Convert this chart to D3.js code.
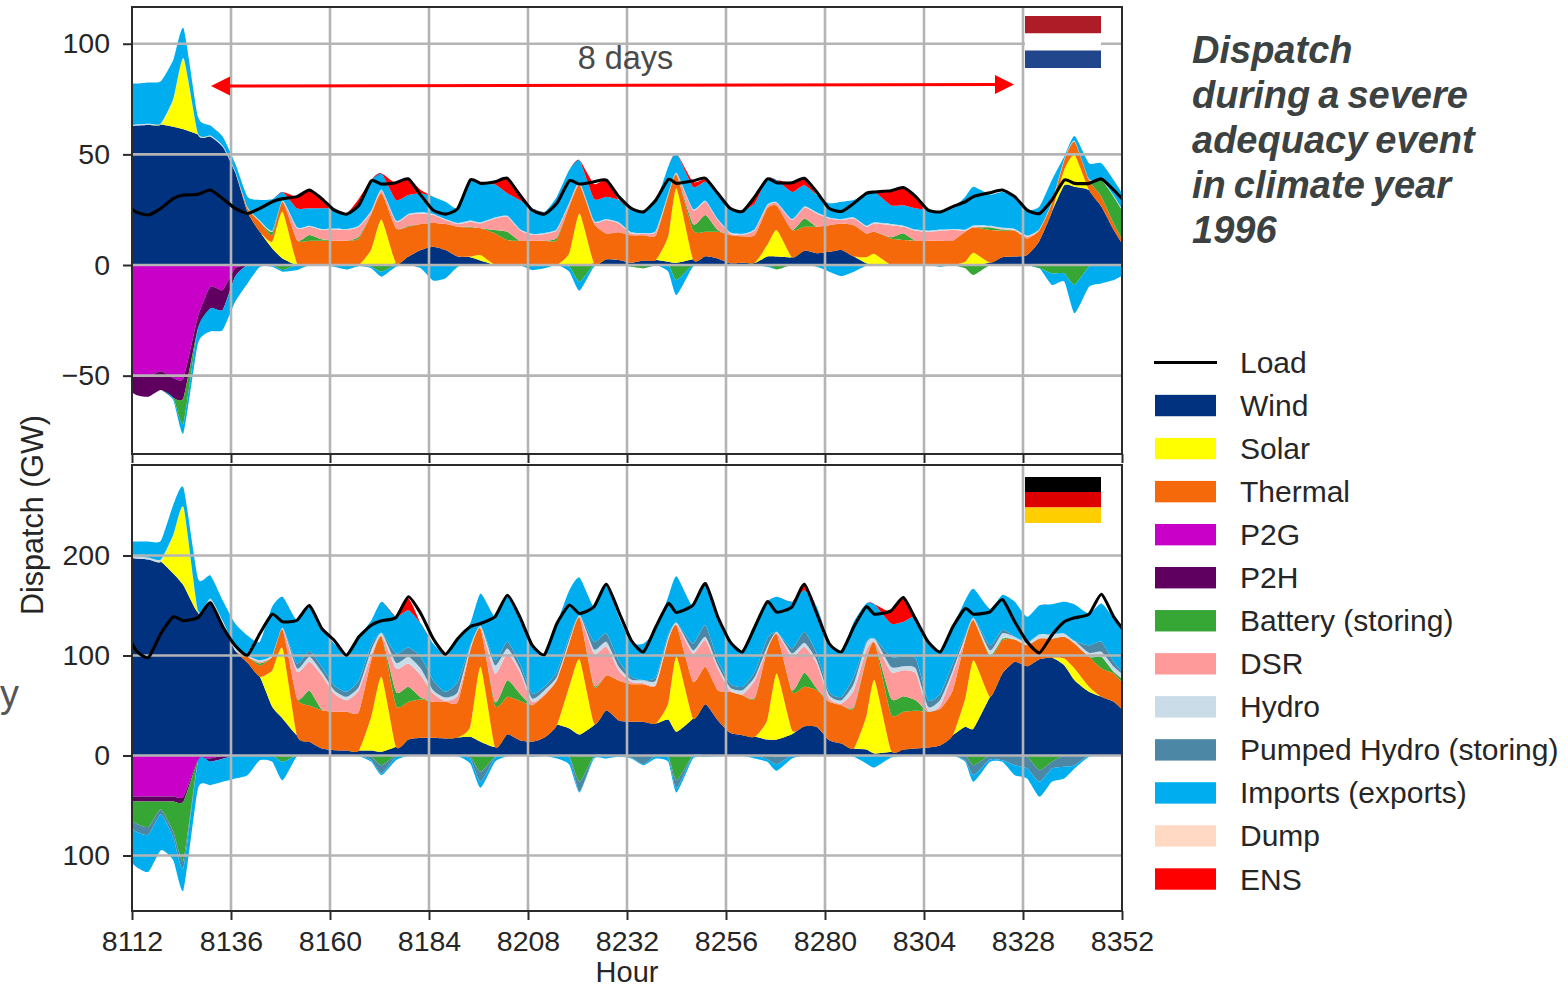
<!DOCTYPE html>
<html><head><meta charset="utf-8">
<script src="https://cdn.jsdelivr.net/npm/d3@7/dist/d3.min.js"></script>
<style>html,body{margin:0;padding:0;background:#fff}svg{display:block}text{font-family:"Liberation Sans",Arial,sans-serif}</style>
</head><body><svg id="c" width="1568" height="988"></svg>
<script>
const hours=[8110,8113,8116,8119,8122,8124.5,8128,8131,8134,8137,
8140,8143,8146,8148.5,8152,8155,8158,8161,8164,8167,
8170,8172.5,8176,8179,8182,8185,8188,8191,8194,8196.5,
8200,8203,8206,8209,8212,8215,8218,8220.5,8224,8227,
8230,8233,8236,8239,8242,8244,8248,8251,8254,8257,
8260,8263,8266,8268.3,8272,8275,8278,8281,8284,8287,
8290,8292,8296,8299,8302,8305,8308,8311,8314,8316,
8320,8323,8326,8329,8332,8335,8338,8340.5,8344,8347,
8350,8353];
const xTicks=[8112,8136,8160,8184,8208,8232,8256,8280,8304,8328,8352];
const nlTicks=[-50,0,50,100];
const deTicks=[-100,0,100,200];
const legendNames=["Load","Wind","Solar","Thermal","P2G","P2H","Battery (storing)","DSR","Hydro","Pumped Hydro (storing)","Imports (exports)","Dump","ENS"];
const colorByName={Wind:"#00327f",Solar:"#ffff00",Thermal:"#f6690a",P2G:"#c800c8",P2H:"#5f0060",Battery:"#36a635",DSR:"#ff9a9a",Hydro:"#c9dce8",PHS:"#4c87a6",Imports:"#00aeef",Dump:"#ffd9c4",ENS:"#ff0000"};
const titleLines=["Dispatch","during a severe","adequacy event","in climate year","1996"];

// Netherlands (GW)
const nlWind=[62,63,63.3,63.5,62.5,61.3,59,58,53.5,42,
24,15,7.5,3,0,0,0,0,0,0,
0,0,0.8,3.8,6.8,8.3,6.8,3.8,3.5,2,
0,0,0,0,0,0,0,0,0.8,2.6,
2.3,1,2,2.3,1.5,1,2.6,4,3,0.8,
1,1,3.8,3.8,3.5,6.5,5.3,6,6.8,3.8,
0.8,0,0,0,0,0,0,0,0,0,
1,3.5,3.8,4.5,11,24,36,35.4,33.9,26.4,
15.8,6.8];
const nlSolar=[0,0,0,0,12,31.7,0,0,0,0,
0,0,3,21,0.8,0,0,0,0,0,
7,20.5,0,0,0,0,0,0,0.3,2.5,
0,0,0,0,0,0,5.3,23.3,0,0,
0,0,0,0,11.5,33.6,0,0,0,0,
0,0,5.2,12,0,0,0,0,0,0,
2.7,5,0,0,0,0,0,0,1.5,5.6,
0,0,0,0,0,0,7,14.3,0,0,
0,0];
const nlThermal=[0,0,0,0,0,0,0,0,0,0,
1.6,4.6,3,4.6,10.5,11,11,11,11,12,
16,11.9,15.8,13.5,11.7,10.7,11.7,13.5,13.1,12.1,
14.3,11.3,11,11,11,11.3,21.1,12.8,18,11.7,
12.5,12.4,11.4,11.1,18,6.1,13.2,11,12,12.8,
12,12.6,16.6,11,12.3,10.8,12,12,12,14.2,
10.8,10,12,11.3,11,11,11,11,13.5,11.3,
14.8,12,11.7,7.5,4.8,3.9,4.4,6,4.5,4.5,
3,1.5];
const nlBattery=[0,0,0,0,0,0,0,0,0,0,
0,0,1.5,0,0,2.6,0.6,0,0,0.8,
0,0,0,0.3,0,0,0,0,0.4,0,
1.5,3.7,0,0,0,1,0,0,0,0,
0,0,0,0,0.6,0,2.7,7.6,0.8,0,
0,0,0,0,0,3.7,0,0,0,0,
0,0,0.5,3,0,0,0,0,0,0,
1.2,0.5,0,0,0,0,0,0,0,7.5,
12.1,13.5];
const nlDSR=[0,0,0,0,0,0,0,0,0,0,
0,0,0,0,5.3,3.7,4.2,5,4.8,4.5,
1,1.2,3,5,4.8,3.6,1.8,1.2,2.3,2.2,
5.2,6.8,4.8,2.6,3,3.5,1.2,0.8,0.8,6,
4,0.9,0.6,1.6,0.2,0.5,6.3,6,4.5,0.7,
0.6,2.2,1.1,1.1,4.5,5,6,3,1.5,3,
3,3.8,5.5,3,4.5,4,4.5,4.8,0.5,0.5,
0.2,0.3,0.3,0.8,0,0,0,0,0,0,
0,0];
const nlHydro=[0.5,0.5,0.5,0.5,0.5,0.5,0.5,0.5,0.5,0.5,
0.5,0.5,0.5,0.5,0.5,0.5,0.5,0.5,0.5,0.5,
0.5,0.5,0.5,0.5,0.5,0.5,0.5,0.5,0.5,0.5,
0.5,0.5,0.5,0.5,0.5,0.5,0.5,0.5,0.5,0.5,
0.5,0.5,0.5,0.5,0.5,0.5,0.5,0.5,0.5,0.5,
0.5,0.5,0.5,0.5,0.5,0.5,0.5,0.5,0.5,0.5,
0.5,0.5,0.5,0.5,0.5,0.5,0.5,0.5,0.5,0.5,
0.5,0.5,0.5,0.5,0.5,0.5,0.5,0.5,0.5,0.5,
0.5,0.5];
const nlImports=[19.5,18.5,18.7,19,17.6,13.5,7.5,4.5,4,3.5,
4.8,9.3,14.2,3.9,8.5,7.8,9.3,9.1,7,10.1,
13.9,7.3,9.3,8.5,8.6,7.8,7.8,6.6,18.3,17.9,
14.9,10.1,13.1,11.5,9.5,14.6,14.8,10,9.9,10.1,
10.1,10,10.3,13.1,12.1,8.8,10.1,8.5,11.6,10.8,
10.4,11.6,12,10,12.2,9.5,7.8,6.4,7.8,7.9,
14.6,13.7,8.5,9.2,9.6,9.3,8,9.3,14.9,17.5,
14.1,16.2,14.6,11.5,10.1,10,1.1,2.1,7.1,7.1,
7,7.1];
const nlENS=[0,0,0,0,0,0,0,0,0,0,
0,0,0,0,5.3,8.3,4.4,0,0,2.1,
0,0,7.5,7.6,1.5,0,0,0,0,0,
1.2,6.8,3.6,0,0,0,0,0,6.6,7.5,
0,0,0,0,0,0,2.2,1.1,0,0,
0,3,0,0,4.2,3.5,0,0,0,0,
0,0,6,8,5.3,0,0,0,0,0,
0,0,0,0,0,0,0,0,0,0,
0,0];
const nlP2G=[50,50.5,50.5,48,51,51,23.3,9.8,11.3,1.5,
0,0,0,0,0,0,0,0,0,0,0,0,0,0,0,0,0,0,0,0,0,0,0,0,0,0,0,0,0,0,
0,0,0,0,0,0,0,0,0,0,0,0,0,0,0,0,0,0,0,0,0,0,0,0,0,0,0,0,0,0,
0,0,0,0,0,0,0,0,0,0,0,0];
const nlP2H=[5,8.2,9,8.5,9,9,5.3,9.8,9,3.8,
0,0,0,0,0,0,0,0,0,0,0,0,0,0,0,0,0,0,0,0,0,0,0,0,0,0,0,0,0,0,
0,0,0,0,0,0,0,0,0,0,0,0,0,0,0,0,0,0,0,0,0,0,0,0,0,0,0,0,0,0,
0,0,0,0,0,0,0,0,0,0,0,0];
const nlBatteryStoring=[0,0,0,0,0,11.5,0,0,0,0,
0,0,0,2.3,0,0,0,0,0,0,
0.8,3,0,0,0,0,0,0,0,0,
0,0,0,0,0,0,0.8,7.5,0,0,
0,0.8,1.5,0,0,6.8,0,0,0,0,
0,0,0,2,0,0,0,0,0,0,
0,0,0,0,0,0,0,0,1.5,4.5,
0,0,0,0,1.5,3.8,3.8,9,0.8,0,
0,0];
const nlExports=[0,0,0,0,1,4.5,6.8,10.4,9.1,11.3,
8.3,0.8,0.8,0.7,2.3,0,0,0.8,2,0.5,
0.7,2.3,0.8,0,1.5,7,6,0.8,0,0,
0,0,0,2.3,1.5,0,2.2,4.1,0.8,0,
0,0,0,0,3,6.8,0.8,0,0,0,
0,0,0.8,0,0,0,0.8,3,5,3,
0.3,0,0,0,0,0,0.8,0,0,0,
0,0,0,0,0,5.2,3.7,12.8,9,8.3,
6.8,3.8];
const nlLoad=[27.9,24,22.6,25.6,30,31.6,32,33.9,30,25.6,
23.3,25.6,28.6,30,30.9,33.9,30,24.8,23,27,
38,36.6,37.2,38.9,31.6,24.8,23,25.6,38.4,36.9,
37.6,39.2,31.6,24.8,23,27.9,38,36.6,37.6,38.4,
30.9,25.6,24,29.4,38.7,36.9,38,39.2,32.4,25.6,
24.2,30.9,38.9,37.2,37.2,39.2,33,25.6,24.2,27.9,
32.4,33,33.6,35,30.9,24.8,24,26.4,28.6,30.9,
32.7,33.9,30.9,24.8,23.3,29.4,38.4,36.9,36.9,38.9,
33.9,27.9];

// Germany (GW)
const deWind=[198.7,197,196,193.7,182,170,143,153.7,132,105,
92.7,78.7,48.7,37,20,13.7,7,5.3,5,5,
5,3.7,8.7,16,17.7,17.7,17,18,18.7,13.7,
8.7,21.3,15.3,13.7,18,30.3,27,21,30.3,45.3,
35,33.7,33.7,32,36,23.7,37,51.3,35.3,22.7,
20.3,18.7,16,16,21.3,29.3,28.7,15.3,12,7,
6,2,3.7,6,7,8,10.3,20.3,28.7,27,
58.7,82,93.7,89.3,96.3,98,90.3,75.3,63.7,58.7,
53.7,42];
const deSolar=[0,0,0,0,38,77.7,0,0,0,0,
0,0,36.3,70,0,0,0,0,0,0,
33.7,75,0,0,0,0,0,0,10,75,
0,0,0,0,0,0,41.7,75,1.7,0,
0,0,0,0,16,75,0,0,0,0,
0,0,19.3,66,4,0,0,0,0,0,
32.7,73.3,1.6,0,0,0,0,0,28.3,68.3,
0,0,0,0,0,0,6.7,11.7,5,0,
0,0];
const deThermal=[0,0,0,0,0,0,0,0,0,0,
6,11.3,13.7,19,37,36.3,38.3,38.4,38.7,38.7,
56.6,40.3,41.3,37.7,38.3,36,36.7,35.7,76.3,38.3,
41.3,37.4,39.4,36.6,42.3,45,43.3,42,36.7,35,
40,37.6,37.6,38.3,63.3,31.3,36.7,37.4,30,41,
40,38.3,70,39.3,38.4,39.4,36.6,38.4,38.3,40,
56.6,37.4,36,37.7,37.7,35.7,36.7,45,58.3,40,
40,33.3,22.3,21,20.7,19,21.7,25,30,28.3,
28.3,26.7];
const deBattery=[0,0,0,0,0,0,0,0,0,0,
0,2,0,0,0,15,0.7,0,0,0,
0,0,13.7,15,2,0,0,0,0,0,
3.7,16.6,7.3,0,0,0,0,0,1.5,0,
0,0,0,0,0,0,0,0,0,0,
0,1,0,0,1.6,14,1.7,0,0,1.5,
1.5,0,15.7,15.6,10.6,0,0,0,0,0,
1.5,1.5,0,0,0,0,0,0,0,11.7,
1.7,5];
const deDSR=[0,0,0,0,0,0,0,0,0,0,
0.5,1.5,0.5,0.5,26.7,28.7,34.3,18.3,11.6,21.6,
5,1,23.3,23.3,22.3,8.3,1,6.6,1,1,
28.3,26.7,21.7,3.4,1,1,1,1,31.8,28.4,
10,2.4,1,1,1,1,28.3,26.6,21.7,1,
1,17.3,1,1,33.4,26,25,3.3,1.7,16.8,
8.2,1,26.7,26,26.7,1,3.3,16.7,1,1,
0.5,0.5,0,0,0,0,0,0,0,0,
0,0];
const deHydro=[1.3,2.3,2,2.3,0.5,0.5,2,3.3,2.7,3,
0.8,1.8,1,1.2,3.3,5,3.4,3.3,3.4,3.4,
5,2.7,5.7,6.7,6.7,3.3,3.3,3.4,2.7,1.7,
8.3,5,3.3,3.3,4,2.4,2.3,1.3,4,5,
3.7,2.3,3,4,2.4,2,3.3,3.4,3.3,3.3,
4,3.4,2.4,1.4,3.3,4,3.3,3.3,3.3,6.7,
7,3.3,5,4,5,4,5.7,3.3,2.4,1.5,
4.5,5,2.7,2.4,4.3,4.3,3.3,2.7,4,5,
5,5];
const dePHS=[0,0,0,0,0,0,0,0,0,0,
0,0,0,0,5,6,5,5,5,6.6,
4.7,0,9.3,9.3,11.7,10,5.7,10,1.3,0,
5,6.7,5,5,3.4,5,3.4,0,7.7,8.3,
6.3,2.7,0,3.4,2,0,6.7,11.6,5,4,
3.4,5,8.3,0,5,11,6.7,3.4,3.4,6.7,
1.7,0,10,9.4,10,6.6,6,6.7,1.7,0,
5,3.3,0,1,0,0,0,0,7.3,10,
5,0];
const deImports=[14,14.7,16,18.7,30,19.3,32,23,20.3,24,
20,18.4,48.7,31,43,44,40,41.7,37.3,43.4,
25,31,36.7,37.3,33.3,36.7,37,43.3,22,32.3,
43.4,46.6,46.7,48.3,32.6,48.3,46.3,37.7,35,48.3,
43.7,34,36.7,46.6,38,46.3,36.7,40,45,43.3,
34.7,46.6,36.7,35,46.7,41.6,46.7,50,43.3,55,
38.3,34.3,33.3,35,41.7,58.4,41.7,36.7,34.9,29,
36.6,35,35,25,29,30,31.7,36.3,32,38.3,
43.4,40];
const deENS=[0,0,0,0,0,0,0,0,0,0,
0,0,0,0,0,1.3,0,0,0,0,
0,0,0,11.7,0,0,0,0,0,0,
0,0,0,0,0,0,0,0,0,1,
0,0,0,0,0,0,0,0,0,0,
0,0,0,0,0,5,0,0,0,0,
0,0,11.7,24.3,0,0,0,0,0,0,
0,0,0,0,0,0,0,0,0,0,
0,0];
const deP2G=[41,41,41,41,41,41,4.7,3,0.3,0,
0,0,0,0,0,0,0,0,0,0,0,0,0,0,0,0,0,0,0,0,0,0,0,0,0,0,0,0,0,0,
0,0,0,0,0,0,0,0,0,0,0,0,0,0,0,0,0,0,0,0,0,0,0,0,0,0,0,0,0,0,
0,0,0,0,0,0,0,0,0,0,0,0];
const deP2H=[5,5,5,5,5,5,1,3.3,3,0,
0,0,0,0,0,0,0,0,0,0,0,0,0,0,0,0,0,0,0,0,0,0,0,0,0,0,0,0,0,0,
0,0,0,0,0,0,0,0,0,0,0,0,0,0,0,0,0,0,0,0,0,0,0,0,0,0,0,0,0,0,
0,0,0,0,0,0,0,0,0,0,0,0];
const deBatteryStoring=[15,22,25.3,8,30,58.7,0,0,0,0,
0,0,0,6.3,0,0,0,0,0,0,
1.3,9.7,0,0,0,0,0,0,1.3,16.3,
1.3,0,0,0,0,0,1.3,26.3,0.7,0,
0,0,0,0,1,24.7,0,0,0,0,
0,0,0,1,0,0,0,0,0,0,
0,0,0,0,0,0,0,0,0,9.7,
0,0,0,1.3,14.7,6.3,0,0,0,0,
0,0];
const dePHSStoring=[5,8,8,5,6,8,0,0,0,0,
0,0,0,0,0,0,0,0,0,0,
3.4,8.3,1.3,0,0,0,0,0,2,10,
1,0,0,0,0,0,0.4,10,0,0,
0,2.3,8.7,0,1,8.3,0,0,0,0,
0,0,3.7,7.7,0,0,0,0,0,0,
0,0,0,0,0,0,0,0,4.7,10,
4,4.7,9.7,11.7,11.6,6.7,11.3,9.7,0,0,
0,0];
const deExports=[32,35.3,37,35.7,22.7,22,27.3,23.4,23,23,
19.7,4.7,6.3,18.4,0.7,0,0,0,0.5,0.7,
1.6,1.7,3.4,0.3,0,0,0,0.7,4.7,6,
4,0.7,0.3,1.3,0.5,3,7.3,0.7,2.3,3,
1.3,0.7,1,3,4.3,4,3,1.3,0.7,0.5,
0.3,3,2.6,6.6,3,0.3,0.3,0,0.3,1.3,
8,12,2,0.5,0.3,0,0,0,1.6,6.6,
2.3,1.6,10,10,15,13.3,11.7,3.3,1.3,0.7,
0.3,0];
const deLoad=[128.7,105,98,122,138.7,134.7,138,152.7,128.7,110,
100.3,122,141.3,133.7,135.3,150,127,115.3,100.3,118.7,
130.3,134.7,138,158.7,142,117,101.3,117,128.7,132,
138.7,160.3,138.7,110.3,101,132,150.3,142,148.7,171.3,
143.7,115.3,103.7,128.7,152,143,150.3,172,138.7,113.7,
103.7,128.7,153.7,143.3,148.7,171.3,142,112,103.7,128.7,
148.7,141.3,144.7,158,136,113.7,103.7,128.7,147,141.3,
143.7,156,133.7,113.7,102.7,120.3,133.7,137.7,141.3,161.3,
138.7,122];

const svg=d3.select("#c");
const left=132,right=1122;
const x=d3.scaleLinear().domain([8112,8352]).range([left,right]);
const tickFont='"Liberation Sans",Arial,sans-serif';
const smooth=d3.curveCardinal.tension(0.45);

function drawPanel(cfg){
  const y=d3.scaleLinear().domain(cfg.domain).range([cfg.bottom,cfg.top]);
  const id="clip"+cfg.id;
  svg.append("clipPath").attr("id",id).append("rect").attr("x",left).attr("y",cfg.top).attr("width",right-left).attr("height",cfg.bottom-cfg.top);
  const g=svg.append("g").attr("clip-path",`url(#${id})`);
  const area=d3.area().curve(smooth).x((d,i)=>x(hours[i]));
  const bands=(series,sign)=>{
    const keys=series.map((s,i)=>i);
    const rows=hours.map((h,j)=>keys.map(k=>series[k][1][j]));
    d3.stack().keys(keys).value((r,k)=>r[k])(rows).forEach((layer,i)=>{
      g.append("path").attr("fill",colorByName[series[i][0]])
       .attr("d",area.y0(d=>y(sign*d[0])).y1(d=>y(sign*d[1]))(layer));
    });
  };
  bands(cfg.pos,1);
  bands(cfg.neg,-1);
  const grid=svg.append("g").attr("stroke","#b4b4b4").attr("stroke-width",2.6);
  grid.selectAll("line.v").data(xTicks.slice(1,-1)).join("line").attr("x1",x).attr("x2",x).attr("y1",cfg.top).attr("y2",cfg.bottom);
  grid.selectAll("line.h").data(cfg.ticks).join("line").attr("x1",left).attr("x2",right).attr("y1",y).attr("y2",y);
  svg.append("path").attr("clip-path",`url(#${id})`).attr("fill","none").attr("stroke","#000").attr("stroke-width",3.1).attr("stroke-linejoin","round")
    .attr("d",d3.line().curve(smooth).x((d,i)=>x(hours[i])).y(d=>y(d))(cfg.load));
  svg.append("rect").attr("x",left).attr("y",cfg.top).attr("width",right-left).attr("height",cfg.bottom-cfg.top).attr("fill","none").attr("stroke","#2b2b2b").attr("stroke-width",2);
  const ya=d3.axisLeft(y).tickValues(cfg.ticks).tickSize(9).tickPadding(13).tickFormat(cfg.fmt);
  const yg=svg.append("g").attr("transform",`translate(${left},0)`).call(ya);
  yg.select(".domain").remove();
  yg.selectAll("line").attr("stroke","#2b2b2b").attr("stroke-width",2);
  yg.selectAll("text").attr("font-size",28.5).attr("fill","#262626").attr("font-family",tickFont);
  const xa=d3.axisBottom(x).tickValues(xTicks).tickSize(9).tickPadding(11).tickFormat(cfg.xLabels?d3.format("d"):"");
  const xg=svg.append("g").attr("transform",`translate(0,${cfg.bottom})`).call(xa);
  xg.select(".domain").remove();
  xg.selectAll("line").attr("stroke","#2b2b2b").attr("stroke-width",2);
  xg.selectAll("text").attr("font-size",28.5).attr("fill","#262626").attr("font-family",tickFont);
}

drawPanel({id:"nl",top:7,bottom:454,domain:[-85.4,116.6],ticks:nlTicks,load:nlLoad,xLabels:false,
  fmt:d=>d<0?"\u2212"+Math.abs(d):String(d),
  pos:[["Wind",nlWind],["Solar",nlSolar],["Thermal",nlThermal],["Battery",nlBattery],["DSR",nlDSR],["Hydro",nlHydro],["Imports",nlImports],["ENS",nlENS]],
  neg:[["P2G",nlP2G],["P2H",nlP2H],["Battery",nlBatteryStoring],["Imports",nlExports]]});
drawPanel({id:"de",top:465,bottom:911,domain:[-155.5,290.5],ticks:deTicks,load:deLoad,xLabels:true,
  fmt:d=>String(Math.abs(d)),
  pos:[["Wind",deWind],["Solar",deSolar],["Thermal",deThermal],["Battery",deBattery],["DSR",deDSR],["Hydro",deHydro],["PHS",dePHS],["Imports",deImports],["ENS",deENS]],
  neg:[["P2G",deP2G],["P2H",deP2H],["Battery",deBatteryStoring],["PHS",dePHSStoring],["Imports",deExports]]});

// flags
[["#ae1c28",16,17.5],["#ffffff",33.5,17],["#21468b",50.5,17.5],["#000000",477,15],["#dd0000",492,15.5],["#ffce00",507.5,15.5]].forEach(f=>{
  svg.append("rect").attr("x",1025).attr("y",f[1]).attr("width",76).attr("height",f[2]).attr("fill",f[0]);
});

// 8 days arrow
const arrowY=d3.scaleLinear().domain([212,1014]).range([86,84.5]);
svg.append("line").attr("x1",230).attr("x2",996).attr("y1",arrowY(230)).attr("y2",arrowY(996)).attr("stroke","#ff0000").attr("stroke-width",3);
svg.append("path").attr("fill","#ff0000").attr("d",d3.line()([[211,86],[230,76.5],[230,95.5]]));
svg.append("path").attr("fill","#ff0000").attr("d",d3.line()([[1014,84.5],[995,75],[995,94]]));
svg.append("text").attr("x",625.5).attr("y",69).attr("text-anchor","middle").attr("font-size",32.4).attr("fill","#4a4a4a").text("8 days");

// axis titles
svg.append("text").attr("x",627).attr("y",982).attr("text-anchor","middle").attr("font-size",29).attr("fill","#262626").text("Hour");
svg.append("text").attr("transform","translate(43,515) rotate(-90)").attr("text-anchor","middle").attr("font-size",30.5).attr("fill","#262626").text("Dispatch (GW)");
svg.append("text").attr("x",0).attr("y",707).attr("font-size",38).attr("fill","#555").text("y");

// legend
const legY=d3.scaleLinear().domain([0,12]).range([362.5,879]);
const swatchColor=["","Wind","Solar","Thermal","P2G","P2H","Battery","DSR","Hydro","PHS","Imports","Dump","ENS"];
legendNames.forEach((n,i)=>{
  const yy=legY(i);
  if(i===0) svg.append("line").attr("x1",1154).attr("x2",1217).attr("y1",yy).attr("y2",yy).attr("stroke","#000").attr("stroke-width",3.2);
  else svg.append("rect").attr("x",1155).attr("y",yy-10.7).attr("width",61).attr("height",21.4).attr("fill",colorByName[swatchColor[i]]);
  svg.append("text").attr("x",1240).attr("y",yy+10.5).attr("font-size",30).attr("fill","#262626").text(n);
});

// title
const ty=d3.scaleLinear().domain([0,4]).range([63,243]);
titleLines.forEach((t,i)=>{
  svg.append("text").attr("x",1192).attr("y",ty(i)).attr("font-size",38).attr("font-weight","bold").attr("font-style","italic").attr("word-spacing","-2.5").attr("fill","#3c4242").text(t);
});
</script></body></html>
